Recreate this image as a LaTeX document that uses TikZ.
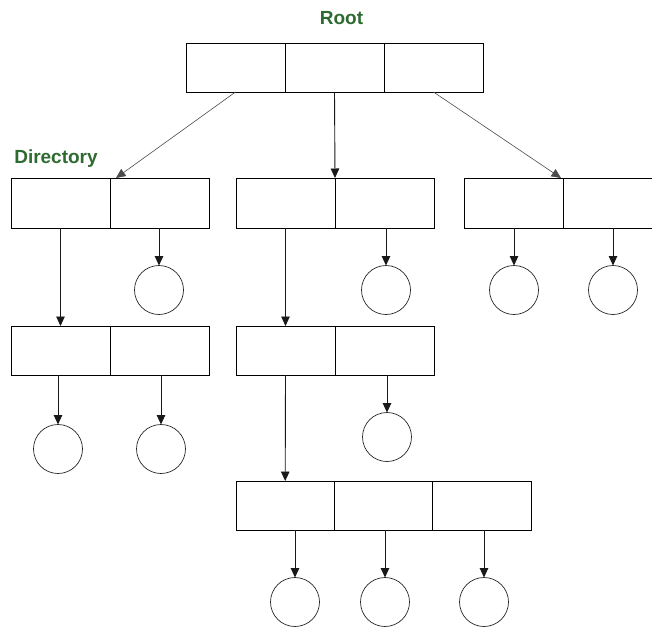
\documentclass[tikz,border=0pt]{standalone}
\usepackage{fontspec}
\setmainfont{Liberation Sans}
\usetikzlibrary{arrows.meta}
\definecolor{lblgreen}{HTML}{2E6B30}
\tikzset{
  cell/.style={draw=black, line width=0.9pt, inner sep=0pt, outer sep=0pt, minimum height=49pt},
  leaf/.style={draw=black!85, line width=0.7pt, circle, inner sep=0pt, outer sep=0pt, minimum size=49pt},
  link/.style={draw=black!90, line width=0.9pt, -{Triangle[length=9.5pt,width=8.5pt]}},
  lbl/.style={text=lblgreen, font=\bfseries\fontsize{19}{21}\selectfont, anchor=base, inner sep=0pt}
}
\begin{document}
\begin{tikzpicture}[x=1pt,y=-1pt]
\useasboundingbox (0,0) rectangle (652,630);
\clip (0,0) rectangle (652,630);
\fill[white] (0,0) rectangle (652,630);
% labels
\node[lbl] (rootlbl) at (341.5,24.3) {Root};
\node[lbl] (dirlbl) at (56,163) {Directory};
% root
\node[cell, minimum width=99pt] (r1) at (235.5,67.5) {};
\node[cell, minimum width=99pt] (r2) at (334.5,67.5) {};
\node[cell, minimum width=99pt] (r3) at (433.5,67.5) {};
% level 1
\node[cell, minimum width=99pt, minimum height=50pt] (a1) at (60.5,203) {};
\node[cell, minimum width=99pt, minimum height=50pt] (a2) at (159.5,203) {};
\node[cell, minimum width=99pt, minimum height=50pt] (m1) at (285.5,203) {};
\node[cell, minimum width=99pt, minimum height=50pt] (m2) at (384.5,203) {};
\node[cell, minimum width=99pt, minimum height=50pt] (q1) at (513.5,203) {};
\node[cell, minimum width=99pt, minimum height=50pt] (q2) at (612.5,203) {};
% level 2
\node[cell, minimum width=99pt] (b1) at (60.5,350.5) {};
\node[cell, minimum width=99pt] (b2) at (159.5,350.5) {};
\node[cell, minimum width=99pt] (n1) at (285.5,350.5) {};
\node[cell, minimum width=99pt] (n2) at (384.5,350.5) {};
% level 3
\node[cell, minimum width=98.3pt] (p1) at (285.2,505.5) {};
\node[cell, minimum width=98.3pt] (p2) at (383.5,505.5) {};
\node[cell, minimum width=98.3pt] (p3) at (481.8,505.5) {};
% leaves
\node[leaf] (la) at (159,290) {};
\node[leaf] (lm) at (386,290) {};
\node[leaf] (lq1) at (514,290) {};
\node[leaf] (lq2) at (613,290) {};
\node[leaf] (lb1) at (58,449) {};
\node[leaf] (lb2) at (161,449) {};
\node[leaf] (ln) at (387,437) {};
\node[leaf] (lp1) at (295,602) {};
\node[leaf] (lp2) at (385,602) {};
\node[leaf] (lp3) at (484,602) {};
% connector targets
\coordinate (ta) at (116,178);
\coordinate (tq) at (561,178);
% root connectors
\draw[link, draw=black!70, line width=0.6pt] (r1.south) -- (ta);
\draw[link] (r2.south) -- (m2.north west);
\draw[link, draw=black!70, line width=0.6pt] (r3.south) -- (tq);
% directory connectors
\draw[link] (a1.south) -- (b1.north);
\draw[link] (m1.south) -- (n1.north);
\draw[link] (n1.south) -- (p1.north);
% leaf connectors
\draw[link] (la |- a2.south) -- (la.north);
\draw[link] (lm |- m2.south) -- (lm.north);
\draw[link] (lq1 |- q1.south) -- (lq1.north);
\draw[link] (lq2 |- q2.south) -- (lq2.north);
\draw[link] (lb1 |- b1.south) -- (lb1.north);
\draw[link] (lb2 |- b2.south) -- (lb2.north);
\draw[link] (ln |- n2.south) -- (ln.north);
\draw[link] (lp1 |- p1.south) -- (lp1.north);
\draw[link] (lp2 |- p2.south) -- (lp2.north);
\draw[link] (lp3 |- p3.south) -- (lp3.north);
\end{tikzpicture}
\end{document}
